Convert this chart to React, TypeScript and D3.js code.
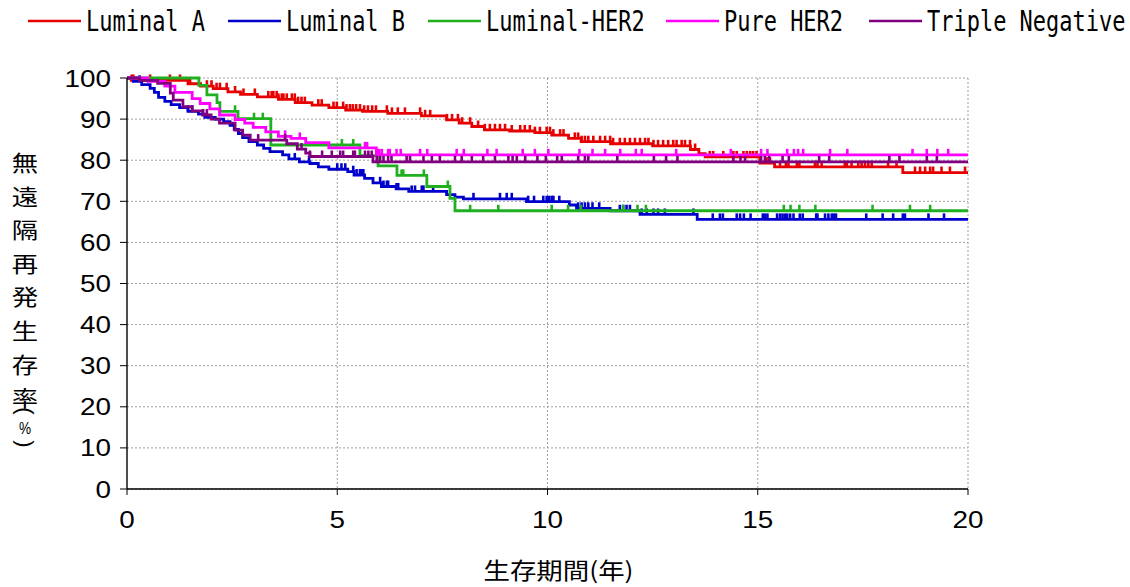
import React from "react";
import * as d3 from "d3";

// ---------- data ----------
const seriesNames = ["Luminal A", "Luminal B", "Luminal-HER2", "Pure HER2", "Triple Negative"];
const seriesColors = ["#e60000", "#0000cc", "#1fb01f", "#ff00ff", "#800080"];
const yTicks = [0, 10, 20, 30, 40, 50, 60, 70, 80, 90, 100];
const xTicks = [0, 5, 10, 15, 20];
const xTitle = "生存期間(年)";
const yTitleChars = ["無", "遠", "隔", "再", "発", "生", "存", "率"];
const yTitleTail = ["(", "%", ")"];

// Kaplan-Meier step points [years, survival %]
const lumASteps: [number, number][] = [
  [0, 100], [0.1, 99.4], [1.45, 98.6], [1.75, 98.0], [2.05, 97.4], [2.4, 96.6], [2.7, 96.0],
  [3.1, 95.4], [3.6, 94.8], [4.0, 94.0], [4.4, 93.4], [4.8, 92.8], [5.2, 92.2], [5.6, 91.9],
  [6.2, 91.4], [7.0, 90.8], [7.6, 89.8], [7.9, 89.0], [8.2, 88.2], [8.5, 87.4], [9.1, 87.1],
  [9.7, 86.7], [10.1, 86.1], [10.5, 85.3], [10.8, 84.5], [11.5, 84.0], [12.5, 83.5],
  [13.4, 82.6], [13.6, 81.6], [13.75, 80.8], [15.05, 79.3], [15.4, 78.4], [18.45, 77.0],
];
const lumBSteps: [number, number][] = [
  [0, 100], [0.15, 99.2], [0.35, 98.4], [0.55, 97.5], [0.65, 96.5], [0.75, 95.3], [0.9, 94.3],
  [1.05, 93.5], [1.25, 92.8], [1.45, 91.9], [1.7, 91.2], [1.85, 90.4], [2.1, 90.0], [2.3, 89.4],
  [2.45, 88.5], [2.55, 87.5], [2.65, 86.5], [2.75, 85.5], [2.9, 84.5], [3.1, 83.7], [3.25, 82.9],
  [3.4, 82.1], [3.7, 81.3], [3.85, 80.3], [4.1, 79.6], [4.35, 79.2], [4.55, 78.4], [4.8, 77.8],
  [5.25, 77.2], [5.4, 76.4], [5.65, 75.6], [5.85, 74.5], [6.05, 73.6], [6.4, 73.0], [6.7, 72.4],
  [7.6, 71.6], [7.8, 71.0], [8.0, 70.6], [9.5, 69.9], [10.52, 69.1], [10.69, 68.3],
  [11.49, 67.7], [12.2, 66.8], [13.56, 65.6],
];
const lumHer2Steps: [number, number][] = [
  [0, 100], [1.71, 98.2], [1.9, 95.9], [2.14, 94.0], [2.21, 91.9], [2.64, 90.1], [3.42, 83.7],
  [5.54, 81.1], [5.97, 78.6], [6.42, 76.3], [7.13, 73.6], [7.68, 70.7], [7.8, 67.7],
];
const pureHer2Steps: [number, number][] = [
  [0, 100], [0.5, 99.2], [0.9, 98.0], [1.14, 96.5], [1.55, 95.0], [1.74, 93.8], [1.97, 92.5],
  [2.2, 91.0], [2.57, 89.9], [2.8, 89.0], [3.0, 88.0], [3.3, 86.9], [3.6, 85.8], [3.9, 85.3],
  [4.25, 84.3], [4.8, 83.0], [5.93, 81.3],
];
const tripleNegSteps: [number, number][] = [
  [0, 100], [0.3, 99.4], [0.73, 98.7], [1.03, 96.3], [1.1, 94.6], [1.33, 93.0], [1.55, 92.0],
  [1.8, 91.0], [2.0, 90.0], [2.2, 89.0], [2.57, 87.3], [2.75, 86.1], [2.93, 84.9], [3.8, 84.0],
  [4.05, 82.7], [4.25, 81.7], [4.35, 80.9], [5.85, 79.6],
];

// censored observations (years)
const lumACensor = [
  0.11, 0.15, 0.55, 1.02, 1.26, 1.5, 1.9, 2.01, 2.13, 2.21, 2.37, 2.57, 2.77, 3.04, 3.36, 3.44,
  3.48, 3.56, 3.6, 3.68, 3.72, 3.8, 3.92, 3.99, 4.07, 4.15, 4.23, 4.55, 4.63, 4.91, 4.99, 5.14,
  5.22, 5.3, 5.37, 5.45, 5.54, 5.64, 5.73, 5.83, 5.92, 6.18, 6.3, 6.44, 6.61, 6.97, 7.09, 7.21,
  7.61, 7.73, 7.87, 7.97, 8.16, 8.35, 8.51, 8.63, 8.75, 8.87, 8.99, 9.15, 9.35, 9.46, 9.58, 9.7,
  9.82, 9.98, 10.06, 10.14, 10.3, 10.38, 10.65, 10.73, 10.81, 10.89, 10.97, 11.09, 11.25, 11.37,
  11.49, 11.56, 11.72, 11.84, 11.96, 12.08, 12.2, 12.32, 12.4, 12.52, 12.63, 12.75, 12.87, 12.99,
  13.07, 13.19, 13.27, 13.39, 13.51, 13.86, 13.94, 14.18, 14.42, 14.5, 14.66, 14.74, 14.82, 14.89,
  14.97, 15.21, 15.29, 15.53, 15.67, 15.73, 15.93, 15.99, 16.36, 16.42, 16.52, 17.07, 17.12,
  17.23, 17.39, 17.47, 17.55, 17.63, 17.71, 18.1, 18.3, 18.74, 18.86, 18.98, 19.1, 19.17, 19.37,
  19.57, 19.93,
];
const lumBCensor = [
  0.3, 1.45, 1.55, 3.99, 4.33, 5.0, 5.1, 5.19, 5.38, 5.46, 5.54, 5.58, 5.62, 6.02, 6.1, 6.18,
  6.21, 6.41, 6.45, 6.77, 6.85, 7.01, 7.05, 7.28, 8.24, 8.87, 9.03, 9.15, 9.54, 9.68, 9.9, 9.98,
  10.04, 10.1, 10.14, 10.28, 10.73, 10.81, 10.89, 10.97, 11.07, 11.23, 11.72, 11.8, 11.88, 11.96,
  12.24, 12.36, 12.52, 12.63, 12.79, 13.47, 13.93, 14.1, 14.17, 14.5, 14.58, 14.67, 14.83,
  15.12, 15.17, 15.23, 15.46, 15.53, 15.59, 15.65, 15.7, 15.77, 15.85, 16.0, 16.07, 16.39,
  16.42, 16.6, 16.68, 16.76, 16.81, 16.86, 17.58, 17.97, 18.22, 18.45, 18.5, 19.06, 19.43,
];
const lumHer2Censor = [
  2.57, 3.02, 3.23, 5.11, 5.38, 6.53, 6.57, 7.06, 7.63, 8.16, 8.83, 10.1, 10.49, 10.79, 11.8,
  12.14, 12.34, 15.62, 15.78, 15.99, 16.37, 17.73, 18.62, 19.1,
];
const pureHer2Censor = [
  3.76, 4.11, 5.66, 5.71, 5.95, 6.0, 6.06, 6.21, 6.25, 6.41, 6.51, 6.97, 7.14, 7.84, 8.01, 8.57,
  8.79, 9.41, 9.7, 10.02, 10.76, 11.07, 11.37, 11.73, 12.1, 12.24, 13.06, 14.36, 15.08, 15.23,
  15.7, 15.86, 15.96, 16.08, 16.72, 17.13, 18.68, 19.02, 19.27, 19.53,
];
const tripleNegCensor = [
  1.81, 1.9, 3.12, 3.76, 4.15, 4.35, 4.64, 4.87, 5.07, 5.14, 5.38, 5.42, 5.66, 5.74, 5.82, 5.94,
  6.02, 6.1, 6.21, 6.29, 6.65, 6.73, 7.05, 7.25, 7.44, 7.8, 7.96, 8.2, 8.47, 8.75, 9.07, 9.17,
  9.27, 9.47, 9.76, 9.96, 10.23, 10.34, 10.73, 10.89, 10.97, 11.66, 12.53, 12.82, 13.09, 14.42,
  14.59, 14.7, 15.08, 15.17, 15.27, 15.59, 15.74, 16.46, 16.7, 18.13, 18.37, 19.02, 19.26,
];

const allSteps = [lumASteps, lumBSteps, lumHer2Steps, pureHer2Steps, tripleNegSteps];
const allCensor = [lumACensor, lumBCensor, lumHer2Censor, pureHer2Censor, tripleNegCensor];

// ---------- layout ----------
const W = 1130;
const H = 587;
const PL = 127, PR = 968, PT = 78, PB = 489;
const legendTextX = [86, 286, 486, 724, 927];
const legendY = 21;
const tickFont = "'Liberation Sans', Arial, sans-serif";
const cjkFont = "'Noto Sans CJK JP', sans-serif";
const monoFont = "'DejaVu Sans Mono', monospace";

export default function App() {
  const x = d3.scaleLinear().domain([0, 20]).range([PL, PR]);
  const y = d3.scaleLinear().domain([0, 100]).range([PB, PT]);
  const line = d3
    .line<[number, number]>()
    .x((d) => x(d[0]))
    .y((d) => y(d[1]))
    .curve(d3.curveStepAfter);
  const bis = d3.bisector((d: [number, number]) => d[0]).right;

  return (
    <svg
      width={W}
      height={H}
      style={{ position: "fixed", left: 0, top: 0, background: "#fff" }}
    >
      <rect x={0} y={0} width={W} height={H} fill="#fff" />
      {/* grid */}
      {yTicks.map((v) => (
        <line key={"gy" + v} x1={PL} x2={PR} y1={y(v)} y2={y(v)}
          stroke="#a0a0a0" strokeWidth={1} strokeDasharray="2 2" />
      ))}
      {xTicks.filter((v) => v > 0).map((v) => (
        <line key={"gx" + v} x1={x(v)} x2={x(v)} y1={PT} y2={PB}
          stroke="#a0a0a0" strokeWidth={1} strokeDasharray="2 2" />
      ))}

      {/* series */}
      {allSteps.map((steps, i) => {
        const pts: [number, number][] = [...steps, [20, steps[steps.length - 1][1]]];
        const cens = allCensor[i];
        return (
          <g key={"s" + i}>
            <path d={line(pts) || ""} fill="none" stroke={seriesColors[i]} strokeWidth={2.8} />
            {cens.map((t, j) => {
              const v = steps[Math.max(0, bis(steps, t) - 1)][1];
              return (
                <line key={j} x1={x(t)} x2={x(t)} y1={y(v)} y2={y(v) - 6}
                  stroke={seriesColors[i]} strokeWidth={2.6} />
              );
            })}
          </g>
        );
      })}

      {/* axes */}
      <line x1={PL} x2={PL} y1={PT} y2={PB} stroke="#000" strokeWidth={1.4} />
      <line x1={PL} x2={PR} y1={PB} y2={PB} stroke="#000" strokeWidth={1.4} />
      {yTicks.map((v) => (
        <g key={"yt" + v}>
          <line x1={PL - 7} x2={PL} y1={y(v)} y2={y(v)} stroke="#000" strokeWidth={1} />
          <text transform={`translate(${PL - 16},${y(v) + 8.5}) scale(1.16,1)`}
            textAnchor="end" fontFamily={tickFont} fontSize={24} fill="#000">{v}</text>
        </g>
      ))}
      {xTicks.map((v) => (
        <g key={"xt" + v}>
          <line x1={x(v)} x2={x(v)} y1={PB} y2={PB + 6} stroke="#000" strokeWidth={1} />
          <text transform={`translate(${x(v)},${PB + 39}) scale(1.16,1)`}
            textAnchor="middle" fontFamily={tickFont} fontSize={24} fill="#000">{v}</text>
        </g>
      ))}

      {/* axis titles */}
      <text transform={`translate(${(PL + PR) / 2 + 11},${579}) scale(1.15,1)`}
        textAnchor="middle" fontFamily={cjkFont} fontSize={23} fill="#000">{xTitle}</text>
      {yTitleChars.map((c, i) => (
        <text key={"yc" + i} transform={`translate(25,${163 + i * 33.6 + 8}) scale(1.2,1)`}
          textAnchor="middle" fontFamily={cjkFont} fontSize={22} fill="#000">{c}</text>
      ))}
      {yTitleTail.map((c, i) => {
        const cy = [411, 428, 444][i];
        const tr = i === 1 ? `translate(25,${cy + 6}) scale(0.8,1)` : `translate(25,${cy}) rotate(90)`;
        return (
          <text key={"yt2" + i} transform={tr} textAnchor="middle"
            dominantBaseline={i === 1 ? "auto" : "central"}
            fontFamily={tickFont} fontSize={i === 1 ? 17 : 22} fill="#000">{c}</text>
        );
      })}

      {/* legend */}
      {seriesNames.map((n, i) => (
        <g key={"lg" + i}>
          <line x1={legendTextX[i] - 58} x2={legendTextX[i] - 5} y1={legendY} y2={legendY}
            stroke={seriesColors[i]} strokeWidth={2.6} />
          <text transform={`translate(${legendTextX[i]},${legendY + 10}) scale(0.785,1)`}
            fontFamily={monoFont} fontSize={28} fill="#000">{n}</text>
        </g>
      ))}
    </svg>
  );
}
